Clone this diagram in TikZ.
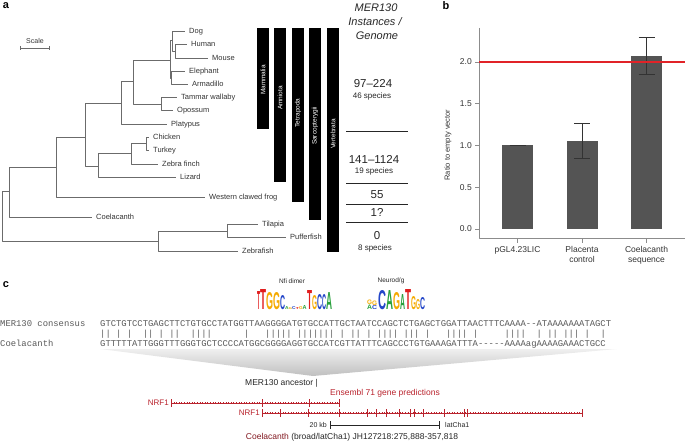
\documentclass[tikz,border=0pt]{standalone}
\usepackage{fontspec}
\setmainfont{Liberation Sans}
\setmonofont{Liberation Mono}
\usepackage{graphicx}
\newcommand{\fsz}[1]{\fontsize{#1}{#1}\selectfont}
\definecolor{treegray}{gray}{0.42}
\definecolor{barfill}{gray}{0.33}
\definecolor{seqgray}{gray}{0.35}
\definecolor{genered}{RGB}{185,35,45}
\definecolor{refred}{RGB}{225,35,40}
\definecolor{logoA}{RGB}{40,160,60}
\definecolor{logoC}{RGB}{35,70,200}
\definecolor{logoG}{RGB}{245,170,0}
\definecolor{logoT}{RGB}{225,30,30}
\begin{document}
\begin{tikzpicture}[x=1pt, y=-1pt, line join=round, >=stealth,
  panel/.style={font=\fsz{11}\bfseries, inner sep=0pt},
  leaf/.style={anchor=west, inner xsep=4pt, inner ysep=0pt, text height=5pt, text depth=0pt, font=\fsz{7.5}, text=black!80},
  branch/.style={draw=treegray, line width=0.7pt},
  cladebar/.style={rotate=90, text=white, font=\fsz{6.5}, inner sep=0pt},
  count/.style={font=\fsz{11.5}, text=black!85, inner sep=0pt},
  species/.style={font=\fsz{8}, text=black!85, inner sep=0pt},
  sep/.style={draw=black!85, line width=0.8pt},
  axis/.style={draw=black!45, line width=0.8pt},
  tick/.style={font=\fsz{8.5}, text=black!80, inner sep=0pt},
  cat/.style={font=\fontsize{8.5}{10.5}\selectfont, text=black!80, align=center, inner sep=0pt},
  errbar/.style={draw=black!80, line width=0.7pt},
  seq/.style={font=\ttfamily\fsz{8.87}, text=seqgray, inner sep=0pt},
  logo/.style={anchor=south west, inner sep=0pt, font=\bfseries},
  motif/.style={font=\fsz{6.5}, text=black!85, inner sep=0pt},
  gene/.style={font=\fsz{8}, text=genered, inner xsep=2pt, inner ysep=0pt},
  track/.style={draw=genered, line width=0.7pt, postaction={draw=genered, line width=2.2pt, dash pattern=on 0.4pt off 2.2pt}},
  exon/.style={draw=genered, line width=0.8pt},
  note/.style={font=\fsz{8.5}, text=black!85, inner sep=0pt}]
\useasboundingbox (0,0) rectangle (685,446);

% ---- panel a : tree
\node[panel] (pa) at (6,6) {a};
\node[font=\fsz{7}, text=black!80, inner sep=0pt] (scale) at (35,41) {Scale};
\draw[branch] (20,48) -- (49,48) (20,46) -- (20,50) (49,46) -- (49,50);

\path
(2,216)coordinate(root)
(9,191)coordinate(sarco)
(56,167)coordinate(tetra)
(85,137)coordinate(amnio)
(121,103)coordinate(mamm)
(133,81)coordinate(theria)
(170,60)coordinate(euth)
(172,40)coordinate(boreo)
(175,51)coordinate(primrod)
(171,78)coordinate(afrox)
(161,104)coordinate(marsup)
(98,166)coordinate(saur)
(131,153)coordinate(aves)
(146,143)coordinate(galli)
(158,241)coordinate(teleo)
(227,231)coordinate(acanth)
;
\foreach \nm/\px/\py/\txt in {dog/185/31/Dog, human/187/44/Human, mouse/208/58/Mouse,
  eleph/185/71/Elephant, armad/188/84/Armadillo, wallaby/177/97/Tammar wallaby,
  opossum/173/110/Opossum, platyp/167/124/Platypus, chicken/149/137/Chicken,
  turkey/149/150/Turkey, finch/158/164/Zebra finch, lizard/176/177/Lizard,
  frog/205/197/Western clawed frog, coel/92/217/Coelacanth, tilapia/258/224/Tilapia,
  puffer/286/237/Pufferfish, zebrafish/238/251/Zebrafish}{
  \node[leaf] (\nm) at (\px,\py) {\txt};}
\foreach \a/\b in {root/sarco, root/teleo, sarco/tetra, sarco/coel.west, tetra/amnio,
  tetra/frog.west, amnio/mamm, amnio/saur, mamm/theria, mamm/platyp.west, theria/euth,
  theria/marsup, euth/boreo, euth/afrox, boreo/dog.west, boreo/primrod, primrod/human.west,
  primrod/mouse.west, afrox/eleph.west, afrox/armad.west, marsup/wallaby.west,
  marsup/opossum.west, saur/aves, saur/lizard.west, aves/galli, aves/finch.west,
  galli/chicken.west, galli/turkey.west, teleo/acanth, teleo/zebrafish.west,
  acanth/tilapia.west, acanth/puffer.west}{
  \draw[branch] (\a) |- (\b);}

% clade bars
\foreach \nm/\xl/\yb/\ty/\txt in {mammalia/257/129/80/Mammalia, amniota/274/182/98/Amniota,
  tetrapoda/292/202/113/Tetrapoda, sarcop/309/220/126/Sarcopterygii, vertebr/327/252/134/Vertebrata}{
  \fill (\xl,28) rectangle (\xl+12,\yb);
  \node[cladebar] (\nm) at (\xl+6,\ty) {\txt};}

% instances per genome
\node[count, font=\fsz{11}\itshape] (mer) at (376,8) {MER130};
\node[count, font=\fsz{11}\itshape] (inst) at (375,22) {Instances /};
\node[count, font=\fsz{11}\itshape] (geno) at (377,36) {Genome};
\node[count] (mam-n) at (373,84) {97--224};
\node[species] (mam-s) at (372,96) {46 species};
\node[count] (sau-n) at (374,159) {141--1124};
\node[species] (sau-s) at (374,171) {19 species};
\node[count] (amp-n) at (377,195) {55};
\node[count] (coe-n) at (377,212) {1?};
\node[count] (tel-n) at (377,236) {0};
\node[species] (tel-s) at (375,248) {8 species};
\foreach \sy in {131,183,204,222}{
  \draw[sep] (346,\sy) -- (408,\sy);}

% ---- panel b : bar chart
\node[panel] (pb) at (446,6) {b};
\node[rotate=90, font=\fsz{7.5}, text=black!80, inner sep=0pt] (ylab) at (448,145) {Ratio to empty vector};
\begin{scope}[shift={(479,229)}, y=83.5pt]
  \foreach \v [count=\i] in {0.0,0.5,1.0,1.5,2.0}{
    \draw[axis] (0,\v) -- (-4,\v);
    \node[tick, anchor=east] (yt\i) at (-7,\v) {\v};}
  \foreach \bx/\bv/\lo/\hi/\nm/\txt in {38.5/1.0/0.997/1.003/pgl/pGL4.23LIC,
    103/1.05/0.85/1.27/plac/Placenta\\control, 167.5/2.07/1.85/2.30/cseq/Coelacanth\\sequence}{
    \fill[barfill] (\bx-15.5,0) rectangle (\bx+15.5,\bv);
    \draw[errbar] (\bx,\lo) -- (\bx,\hi) (\bx-8,\lo) -- (\bx+8,\lo) (\bx-8,\hi) -- (\bx+8,\hi);
    \draw[axis] (\bx,-0.108) -- (\bx,-0.168);
    \node[cat, anchor=north] (\nm) at (\bx,-0.205) {\txt};}
  \draw[axis] (0,2.41) -- (0,-0.108) -- (206,-0.108);
  \draw[refred, line width=1.2pt] (0,2) -- (206,2);
\end{scope}

% ---- panel c : alignment
\node[panel] (pc) at (6,285) {c};
\node[motif] (nfi) at (292,281) {Nfi dimer};
\node[motif] (neuro) at (391,281) {Neurod/g};
\foreach \lx/\ly/\lw/\lh/\lc/\ll [count=\i] in {257/310/3/18/logoT/T, 260/310/6/20/logoT/T,
  266/310/7/17/logoG/G, 273/310/7/17/logoG/G, 280/310/5/14/logoC/C,
  285/310/3.5/3/logoA/A, 288.5/310/3.5/2/logoG/G, 292/310/3.5/3/logoC/C, 295.5/310/3.5/2/logoT/T,
  299/310/3.5/3/logoG/G, 302.5/310/4/4/logoA/A,
  307/310/5/19/logoT/T, 312/310/5/14/logoG/G, 317/310/5/15/logoC/C, 322/310/4/15/logoC/C,
  326/310/6/17/logoA/A}{
  \node[logo, text=\lc] (nfl\i) at (\lx,\ly) {\resizebox{\lw pt}{\lh pt}{\ll}};}
\foreach \lx/\ly/\lw/\lh/\lc/\ll [count=\i] in {367/310/5/4.5/logoA/A, 367/304.5/5/4.5/logoG/G,
  372/310/5/4/logoC/C, 372/305.5/5/4.5/logoG/G, 378/310/8/19/logoC/C, 386/310/7/19/logoA/A,
  393/310/7/17/logoG/G, 400/310/5/15/logoA/A, 405/310/6/20/logoT/T, 411/310/5/13/logoG/G,
  416/310/4/10/logoG/G, 420/310/5/12/logoC/C}{
  \node[logo, text=\lc] (nrl\i) at (\lx,\ly) {\resizebox{\lw pt}{\lh pt}{\ll}};}

\node[seq, anchor=base west] (consl) at (0,326) {MER130 consensus};
\node[seq, anchor=base west] (cons) at (100,326) {GTCTGTCCTGAGCTTCTGTGCCTATGGTTAAGGGGATGTGCCATTGCTAATCCAGCTCTGAGCTGGATTAACTTTCAAAA-{}-ATAAAAAAATAGCT};
\node[seq, anchor=base west] (match) at (100,336) {||~|~|~~||~|~||~~||||~~~~~~|~~~|||||~|||||||~|~||~|~||||~|||~|~~~||||~|~~~~~||||~~|~||~|||~|~~|};
\node[seq, anchor=base west] (coell) at (0,346) {Coelacanth};
\node[seq, anchor=base west] (coels) at (100,346) {GTTTTTATTGGGTTTGGGTGCTCCCCATGGCGGGGAGGTGCCATCGTTATTTCAGCCCTGTGAAAGATTTA-{}-{}-{}-{}-AAAAagAAAAGAAACTGCC};

% funnel to the locus
\shade[top color=gray!12, bottom color=gray!50] (100,349) -- (617,349) -- (313,376) coordinate (apex) -- cycle;
\node[note, anchor=east] (anc) at (318,383) {MER130 ancestor |};
\node[gene, font=\fsz{8.5}, anchor=west] (ens) at (328,393) {Ensembl 71 gene predictions};

% gene models
\node[gene, anchor=east] (nrfa) at (171,403) {NRF1};
\coordinate (nrfa-end) at (339,403);
\draw[track] (nrfa.east) -- (nrfa-end);
\foreach \tx in {171,262,309,339}{
  \draw[exon] (\tx,399) -- (\tx,407);}
\node[gene, anchor=east] (nrfb) at (262,413) {NRF1};
\coordinate (nrfb-end) at (582,413);
\draw[track] (nrfb.east) -- (nrfb-end);
\foreach \tx in {262,280,308,339,367,376,386,399,410,414,423,444,464,467,582}{
  \draw[exon] (\tx,409) -- (\tx,417);}

% scale and location
\node[note, font=\fsz{7}, anchor=east, inner xsep=3pt] (kb) at (330,425) {20 kb};
\node[note, font=\fsz{7}, anchor=west, inner xsep=5pt] (lat) at (440,425) {latCha1};
\draw[black!85, line width=1pt, |-|] (kb.east) -- (lat.west);
\node[note] (loc) at (352,437) {\textcolor{genered!70!black}{Coelacanth} (broad/latCha1) JH127218:275,888-357,818};
\end{tikzpicture}
\end{document}
